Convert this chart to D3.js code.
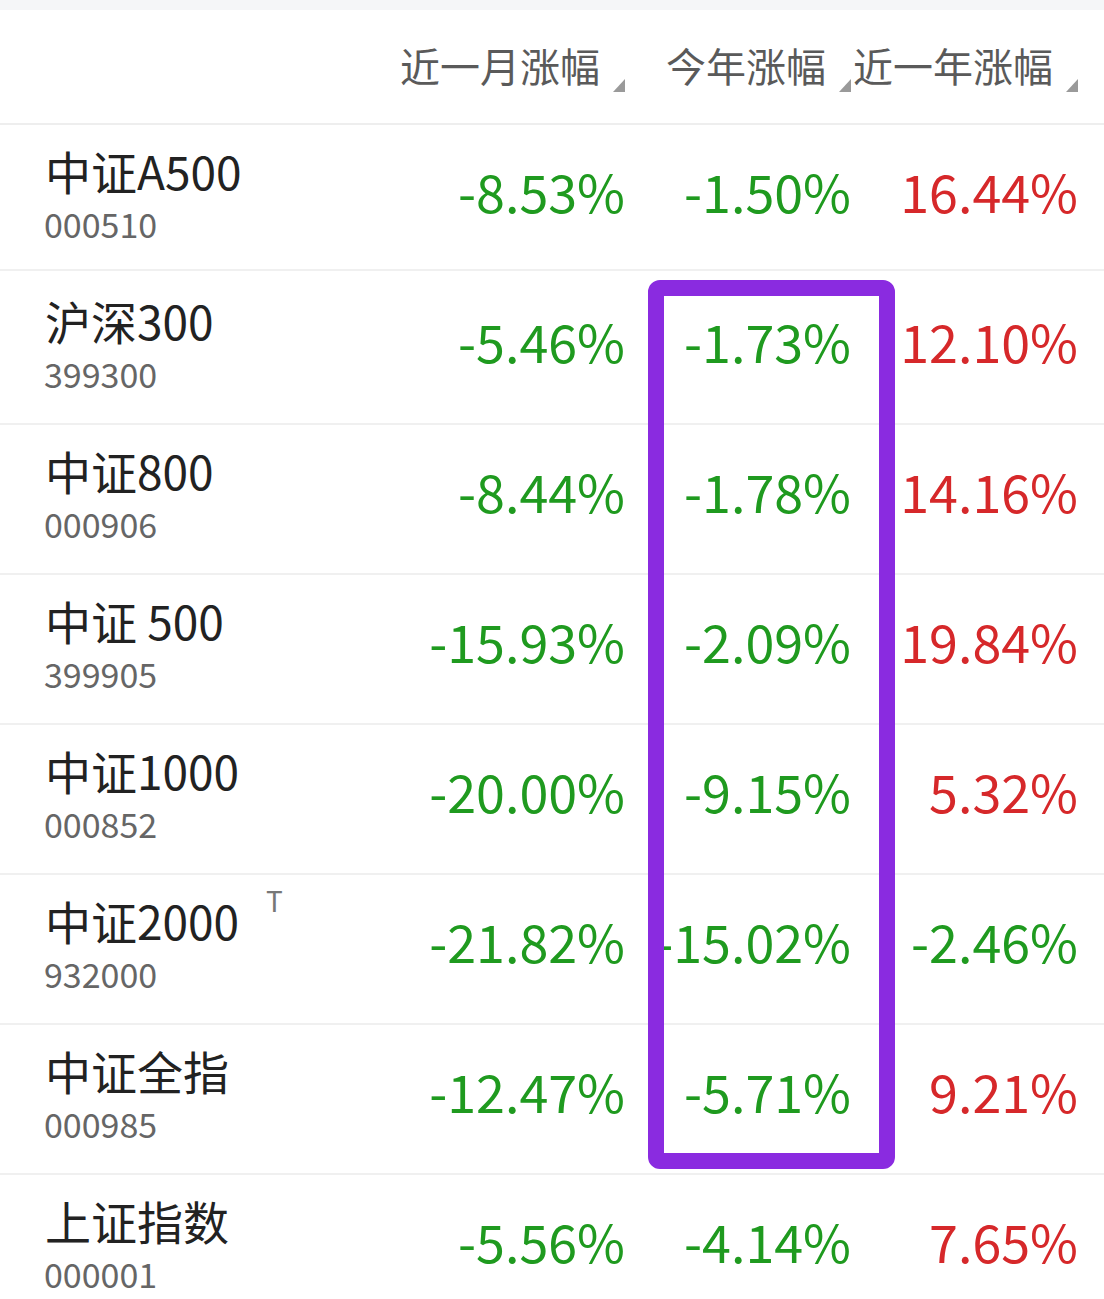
<!DOCTYPE html>
<html><head><meta charset="utf-8">
<script src="https://cdn.jsdelivr.net/npm/d3@7/dist/d3.min.js"></script>
<style>body{margin:0;background:#fff}svg{display:block}text{font-family:"Noto Sans CJK SC","Noto Sans",sans-serif}</style>
</head><body>
<script>
const headers = ["近一月涨幅","今年涨幅","近一年涨幅"];
const names = ["中证A500","沪深300","中证800","中证 500","中证1000","中证2000","中证全指","上证指数"];
const codes = ["000510","399300","000906","399905","000852","932000","000985","000001"];
const month = [-8.53,-5.46,-8.44,-15.93,-20.00,-21.82,-12.47,-5.56];
const ytd = [-1.50,-1.73,-1.78,-2.09,-9.15,-15.02,-5.71,-4.14];
const year = [16.44,12.10,14.16,19.84,5.32,-2.46,9.21,7.65];
const highlightRows = [1,6]; // 沪深300 .. 中证全指, 今年涨幅 column

const W=1104,H=1299;
const svg=d3.select("body").append("svg").attr("width",W).attr("height",H);
svg.append("rect").attr("width",W).attr("height",10).attr("fill","#f5f6f8");

const y=d3.scaleBand().domain(d3.range(names.length)).range([124,1324]);
const colRight=d3.scaleOrdinal().domain([0,1,2]).range([625,851,1078]);
const series=[month,ytd,year];
const fmt=v=>v.toFixed(2)+"%";
const col=v=>v<0?"#1f9a1f":"#d6282a";

// header
headers.forEach((h,i)=>{
  const r=colRight(i);
  svg.append("text").attr("x",r-25).attr("y",82).attr("text-anchor","end")
    .attr("font-size",40).attr("fill","#5a5a5a").text(h);
  svg.append("path").attr("d",`M${r-12},92 L${r},92 L${r},79 Z`).attr("fill","#9a9a9a");
});
svg.append("line").attr("x1",0).attr("x2",W).attr("y1",124).attr("y2",124).attr("stroke","#e8e8e8").attr("stroke-width",1.5);

const rows=svg.selectAll("g.row").data(names).join("g").attr("transform",(d,i)=>`translate(0,${y(i)})`);
rows.append("line").attr("x1",0).attr("x2",W).attr("y1",(d,i)=>i===0?146:150).attr("y2",(d,i)=>i===0?146:150)
  .attr("stroke","#ebebeb").attr("stroke-width",1.5);
rows.append("text").attr("x",45).attr("y",(d,i)=>i===0?66:66).attr("font-size",46).attr("fill","#222").text(d=>d);
rows.append("text").attr("x",44).attr("y",114).attr("font-size",34).attr("fill","#666").text((d,i)=>codes[i]);
rows.filter((d,i)=>i===5).append("text").attr("x",266).attr("y",38).attr("font-size",28).attr("fill","#777").text("T");
series.forEach((s,j)=>{
  rows.append("text").attr("x",colRight(j)).attr("y",89).attr("text-anchor","end")
    .attr("font-size",52).attr("fill",(d,i)=>col(s[i])).text((d,i)=>fmt(s[i]));
});

// highlight box
const bx0=656,bx1=887;
svg.append("rect").attr("x",bx0).attr("y",y(highlightRows[0])+14)
  .attr("width",bx1-bx0).attr("height",y(highlightRows[1])+y.bandwidth()-13-(y(highlightRows[0])+14))
  .attr("rx",4).attr("fill","none").attr("stroke","#8a2be0").attr("stroke-width",16);
</script>
</body></html>
